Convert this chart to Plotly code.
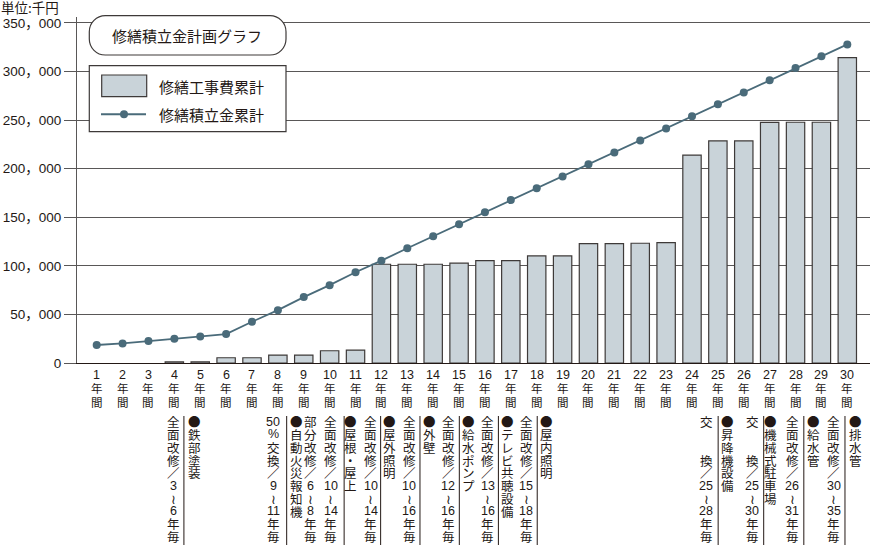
import plotly.graph_objects as go

# 修繕積立金計画グラフ（単位：千円）
years = list(range(1, 31))
repair_cost = [0, 0, 0, 1300, 1300, 5400, 5400, 8200, 8200, 12600,
               13300, 101600, 101600, 101600, 102700, 105300, 105300, 110200, 110200, 122800,
               122800, 123200, 123800, 213900, 228500, 228500, 247500, 247700, 247700, 314100]
reserve_total = [18500, 20100, 22600, 24900, 27300, 29800, 42400, 54400, 67800, 80100,
                 93400, 105300, 118100, 130400, 142700, 155000, 167700, 179700, 192000, 204600,
                 216600, 229000, 241300, 253900, 266200, 278200, 290900, 303500, 315500, 327800]
y_ticks = list(range(0, 350001, 50000))

# 工事項目と周期（縦書き）
notes = ["全面改修／3～6年毎", "●鉄部塗装",
         "50%交換／9～11年毎", "●自動火災報知機",
         "部分改修／6～8年毎", "全面改修／10～14年毎", "●屋根・屋上",
         "全面改修／10～14年毎", "●屋外照明",
         "全面改修／10～16年毎", "●外壁",
         "全面改修／12～16年毎", "●給水ポンプ",
         "全面改修／13～16年毎", "●テレビ共聴設備",
         "全面改修／15～18年毎", "●屋内照明",
         "交　　換／25～28年毎", "●昇降機設備",
         "交　　換／25～30年毎", "●機械式駐車場",
         "全面改修／26～31年毎", "●給水管",
         "全面改修／30～35年毎", "●排水管"]
note_x = [3.96, 4.77, 7.82, 8.70, 9.27, 10.04, 10.81, 11.59, 12.33, 13.08, 13.85,
          14.59, 15.36, 16.11, 16.87, 17.59, 18.39, 24.55, 25.36, 26.32, 27.05,
          27.87, 28.71, 29.48, 30.32]
rule_x = [4.37, 8.34, 10.56, 11.97, 13.49, 15.01, 16.52, 18.02, 25.01, 26.77, 28.32, 29.91]

W, H = 870, 545
L, R, T, B = 77, 0, 17, 182
PW, PH = W - L - R, H - T - B

INK = "#231815"
EDGE = "#3e3a39"
BAR = "#c9d3d9"
LINE = "#4a6b7a"
JP = "Noto Sans CJK JP"
LAT = "Liberation Sans, Noto Sans CJK JP"


def px(x):
    return (x - L) / PW


def py(y):
    return (T + PH - y) / PH


def tokens(s):
    out = []
    for ch in s:
        if ch.isdigit() and out and out[-1].isdigit():
            out[-1] += ch
        else:
            out.append(ch)
    return out


def char(x, y, t, size, xref="x"):
    fam = LAT if t[0].isdigit() or t == "%" else JP
    return dict(x=x, y=py(y), xref=xref, yref="paper", text=t, showarrow=False,
                xanchor="center", yanchor="middle", font=dict(family=fam, size=size, color=INK))


fig = go.Figure()
fig.add_trace(go.Bar(x=years, y=repair_cost, name="修繕工事費累計",
                     marker=dict(color=BAR, line=dict(color=EDGE,
                                                      width=[0 if v == 0 else 1.2 for v in repair_cost]))))
fig.add_trace(go.Scatter(x=years, y=reserve_total, name="修繕積立金累計", mode="lines+markers",
                         line=dict(color=LINE, width=1.8), marker=dict(color=LINE, size=8)))

ann = []
# x軸ラベル（縦書き）
for yr in years:
    for i, t in enumerate([str(yr), "年", "間"]):
        ann.append(char(yr, 375 + i * 13.3, t, 12.5 if i == 0 else 11.5))

vert = {"～": "≀"}
for x, text in zip(note_x, notes):
    for i, t in enumerate(tokens(text)):
        if not t.strip():
            continue
        ann.append(char(x, 421.7 + i * 12.78, vert.get(t, t), 12.5))

ann.append(dict(x=px(-1), y=py(7), xref="paper", yref="paper", text="単位:千円", showarrow=False,
                xanchor="left", yanchor="middle", font=dict(family=JP, size=13.5, color=INK)))
ann.append(dict(x=px(187), y=py(35.5), xref="paper", yref="paper", text="修繕積立金計画グラフ",
                showarrow=False, xanchor="center", yanchor="middle",
                font=dict(family=JP, size=15, color=INK)))
for yy, label in [(86, "修繕工事費累計"), (114.5, "修繕積立金累計")]:
    ann.append(dict(x=px(157), y=py(yy), xref="paper", yref="paper", text=label, showarrow=False,
                    xanchor="left", yanchor="middle", font=dict(family=JP, size=15, color=INK)))

shapes = []
for x in rule_x:
    shapes.append(dict(type="line", xref="x", yref="paper", x0=x, x1=x, y0=py(416), y1=py(546),
                       line=dict(color=INK, width=1)))

# タイトル枠（角丸）
x0, y0, x1, y1, r = 89.3, 15.7, 286, 55, 16
k = 0.5523 * r
pts = [("M", [(x0 + r, y0)]), ("L", [(x1 - r, y0)]),
       ("C", [(x1 - r + k, y0), (x1, y0 + r - k), (x1, y0 + r)]), ("L", [(x1, y1 - r)]),
       ("C", [(x1, y1 - r + k), (x1 - r + k, y1), (x1 - r, y1)]), ("L", [(x0 + r, y1)]),
       ("C", [(x0 + r - k, y1), (x0, y1 - r + k), (x0, y1 - r)]), ("L", [(x0, y0 + r)]),
       ("C", [(x0, y0 + r - k), (x0 + r - k, y0), (x0 + r, y0)])]
path = " ".join(c + " ".join(f"{px(a):.5f},{py(b):.5f}" for a, b in p) for c, p in pts) + " Z"
shapes.append(dict(type="path", xref="paper", yref="paper", path=path, fillcolor="white",
                   line=dict(color=EDGE, width=1.2)))

# 凡例
shapes.append(dict(type="rect", xref="paper", yref="paper", x0=px(89.3), x1=px(286),
                   y0=py(65.7), y1=py(131.7), fillcolor="white", line=dict(color=EDGE, width=1.2)))
shapes.append(dict(type="rect", xref="paper", yref="paper", x0=px(101.7), x1=px(146.7),
                   y0=py(75), y1=py(96.7), fillcolor=BAR, line=dict(color=EDGE, width=1.2)))
shapes.append(dict(type="line", xref="paper", yref="paper", x0=px(101), x1=px(146),
                   y0=py(114.3), y1=py(114.3), line=dict(color=LINE, width=2)))
shapes.append(dict(type="circle", xref="paper", yref="paper", x0=px(120), x1=px(128),
                   y0=py(110.3), y1=py(118.3), fillcolor=LINE, line=dict(color=LINE, width=0)))

fig.update_layout(
    width=W, height=H, margin=dict(l=L, r=R, t=T, b=B),
    paper_bgcolor="white", plot_bgcolor="white",
    bargap=0.29, showlegend=False,
    font=dict(family=LAT, color=INK),
    annotations=ann, shapes=shapes,
)
fig.update_xaxes(range=[0.239, 30.877], showline=True, linecolor=INK, linewidth=1.2,
                 showgrid=False, zeroline=False, showticklabels=False, ticks="")
fig.update_yaxes(range=[0, 356000], tickvals=y_ticks,
                 ticktext=[f"{v:,}".replace(",", "，") for v in y_ticks],
                 tickfont=dict(family=LAT, size=13.5, color=INK),
                 showline=True, linecolor="#595757", linewidth=1.2,
                 ticks="outside", ticklen=12, tickcolor="#595757", tickwidth=1,
                 showgrid=True, gridcolor="#595757", gridwidth=1, zeroline=False)

fig.write_html("out.html", config={"displayModeBar": False},
               post_script="document.body.style.margin='0';")
